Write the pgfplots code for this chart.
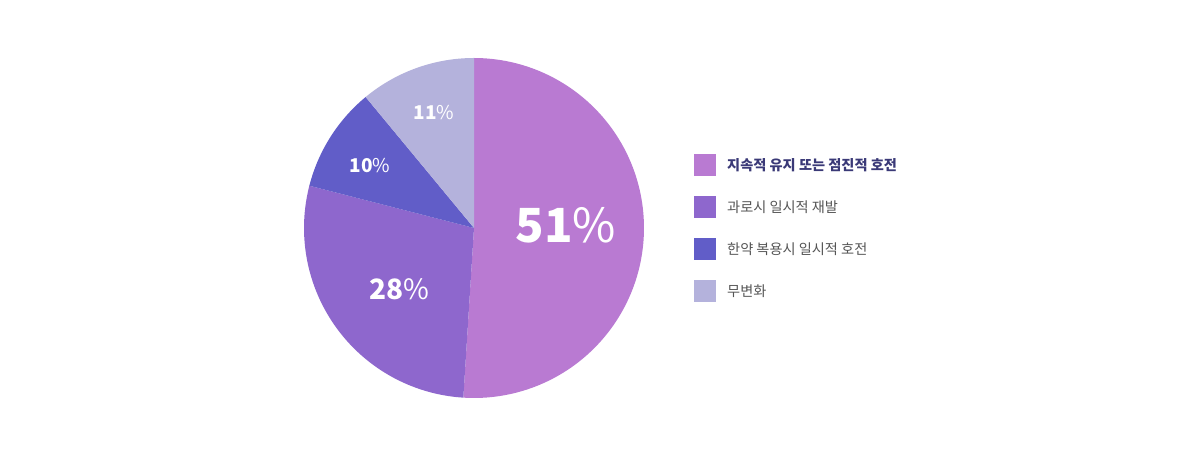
\documentclass[border=0pt]{standalone}
\usepackage{pgfplots}
\pgfplotsset{compat=1.18}
\usepackage{fontspec}
\setmainfont{Noto Sans CJK KR}

\definecolor{sliceA}{HTML}{B97AD2}
\definecolor{sliceB}{HTML}{8E67CD}
\definecolor{sliceC}{HTML}{615DC8}
\definecolor{sliceD}{HTML}{B4B2DC}
\definecolor{legnavy}{HTML}{3A3977}
\definecolor{leggray}{HTML}{555555}

% 1pt = 1px of the 1200x460 reference
\begin{document}
\begin{tikzpicture}
\path[fill=white] (0,0) rectangle (1200pt,460pt);
\begin{axis}[
    at={(474pt,232pt)}, anchor=center,
    x=170pt, y=170pt,
    xmin=-1, xmax=1, ymin=-1, ymax=1,
    hide axis, clip=false,
    legend cell align=left,
    legend style={
        at={(axis cs:1.294,0.435)}, anchor=north west,
        draw=none, fill=none, inner sep=0pt,
        row sep=20pt,
        nodes={inner sep=0pt},
        /tikz/every odd column/.append style={column sep=11pt},
        font=\fontsize{14.2}{17}\selectfont,
    },
    legend image code/.code={\fill[#1] (0pt,-11pt) rectangle (22pt,11pt);},
]
% shares in percent: 51, 28, 10, 11 (clockwise from 12 o'clock, 3.6 deg per %)
\addplot[fill=sliceA, draw=none, domain=-93.6:90, samples=120] ({cos(x)},{sin(x)}) -- (0,0) -- cycle;
\addlegendentry{\color{legnavy}\bfseries 지속적 유지 또는 점진적 호전}
\addplot[fill=sliceB, draw=none, domain=-194.4:-93.6, samples=80] ({cos(x)},{sin(x)}) -- (0,0) -- cycle;
\addlegendentry{\color{leggray}과로시 일시적 재발}
\addplot[fill=sliceC, draw=none, domain=-230.4:-194.4, samples=40] ({cos(x)},{sin(x)}) -- (0,0) -- cycle;
\addlegendentry{\color{leggray}한약 복용시 일시적 호전}
\addplot[fill=sliceD, draw=none, domain=-270:-230.4, samples=40] ({cos(x)},{sin(x)}) -- (0,0) -- cycle;
\addlegendentry{\color{leggray}무변화}

\node[text=white, font=\fontsize{47}{54}\selectfont] at (axis cs:0.541,0.018) {\textbf{51}\%};
\node[text=white, font=\fontsize{28}{34}\selectfont] at (axis cs:-0.441,-0.359) {\textbf{28}\%};
\node[text=white, font=\fontsize{19}{23}\selectfont] at (axis cs:-0.612,0.365) {\textbf{10}\%};
\node[text=white, font=\fontsize{19}{23}\selectfont] at (axis cs:-0.235,0.682) {\textbf{11}\%};
\end{axis}
\end{tikzpicture}
\end{document}
